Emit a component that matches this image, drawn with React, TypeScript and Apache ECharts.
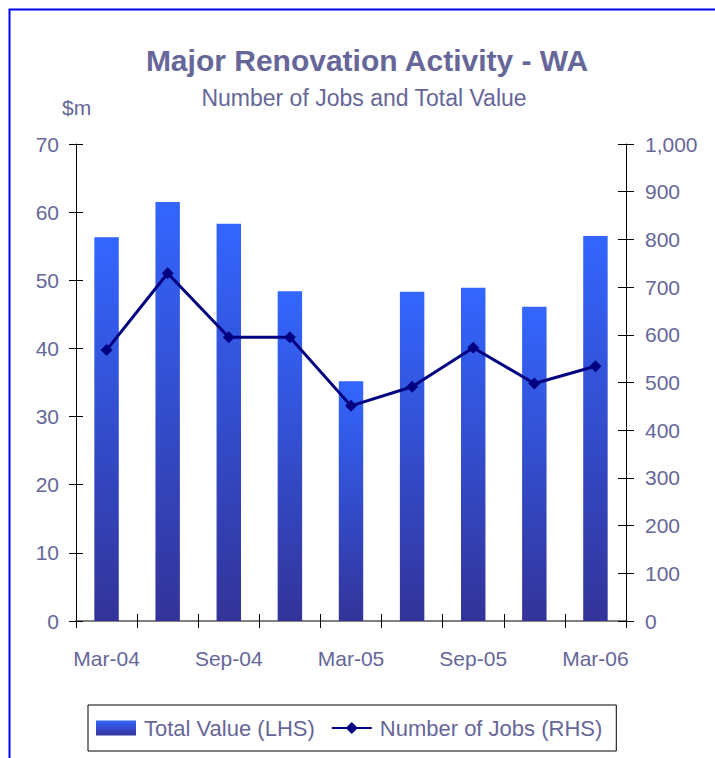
import React, { useEffect, useRef } from "react";
import * as echarts from "echarts";

const categories = ["Mar-04", "Jun-04", "Sep-04", "Dec-04", "Mar-05", "Jun-05", "Sep-05", "Dec-05", "Mar-06"];
const totalValue = [56.3, 61.5, 58.3, 48.4, 35.2, 48.3, 48.9, 46.1, 56.5];
const numberOfJobs = [568, 729, 595, 595, 451, 491, 573, 498, 534];

const FONT = "Liberation Sans, Arial, sans-serif";
const TXT = "#666699";

export default function App() {
  const ref = useRef<HTMLDivElement>(null);
  useEffect(() => {
    document.body.style.margin = "0";
    const chart = echarts.init(ref.current!, null, { renderer: "svg" });
    const gridBox = { left: 76, top: 144, width: 550, height: 477 };
    const option: any = {
      animation: false,
      backgroundColor: "#ffffff",
      title: [
        {
          text: "Major Renovation Activity - WA",
          left: 367,
          top: 45,
          padding: 0,
          textAlign: "center",
          textStyle: { fontFamily: FONT, fontSize: 30, fontWeight: "bold", color: TXT },
        },
        {
          text: "Number of Jobs and Total Value",
          left: 364,
          top: 86,
          padding: 0,
          textAlign: "center",
          textStyle: { fontFamily: FONT, fontSize: 23, fontWeight: "normal", color: TXT },
        },
        {
          text: "$m",
          left: 62,
          top: 97,
          padding: 0,
          textStyle: { fontFamily: FONT, fontSize: 21, fontWeight: "normal", color: TXT },
        },
      ],
      graphic: [
        {
          type: "rect",
          left: 7,
          top: 7,
          shape: { width: 730, height: 780 },
          style: { fill: "none", stroke: "#0000ff", lineWidth: 2 },
          silent: true,
        },
      ],
      legend: {
        left: 88,
        top: 705,
        padding: [12, 14, 12, 8],
        itemWidth: 40,
        itemHeight: 15,
        itemGap: 16,
        borderColor: "#000000",
        borderWidth: 1,
        textStyle: { fontFamily: FONT, fontSize: 22, color: TXT, padding: [0, 0, 0, 3] },
        data: [{ name: "Total Value (LHS)", icon: "rect" }, { name: "Number of Jobs (RHS)" }],
      },
      grid: [
        { ...gridBox, containLabel: false },
        { ...gridBox, containLabel: false },
      ],
      xAxis: [
        {
          type: "category",
          gridIndex: 0,
          data: categories,
          boundaryGap: true,
          axisLine: { lineStyle: { color: "#808080", width: 2 } },
          axisTick: { show: true, interval: 0, length: 7, lineStyle: { color: "#000000" } },
          axisLabel: { interval: 1, margin: 27, fontFamily: FONT, fontSize: 21, color: TXT },
        },
        {
          type: "category",
          gridIndex: 1,
          data: categories,
          boundaryGap: true,
          axisLine: { show: false },
          axisTick: { show: true, inside: true, interval: 0, length: 7, lineStyle: { color: "#000000" } },
          axisLabel: { show: false },
        },
      ],
      yAxis: [
        {
          type: "value",
          gridIndex: 0,
          position: "left",
          min: 0,
          max: 70,
          interval: 10,
          splitLine: { show: false },
          axisLine: { show: true, lineStyle: { color: "#000000" } },
          axisTick: { show: true, length: 7, lineStyle: { color: "#000000" } },
          axisLabel: { margin: 17, fontFamily: FONT, fontSize: 21, color: TXT },
        },
        {
          type: "value",
          gridIndex: 0,
          position: "right",
          min: 0,
          max: 1000,
          interval: 100,
          splitLine: { show: false },
          axisLine: { show: true, lineStyle: { color: "#000000" } },
          axisTick: { show: true, length: 8, lineStyle: { color: "#000000" } },
          axisLabel: {
            margin: 19,
            fontFamily: FONT,
            fontSize: 21,
            color: TXT,
            formatter: (v: number) => v.toLocaleString("en-US"),
          },
        },
        {
          type: "value",
          gridIndex: 1,
          position: "left",
          min: 0,
          max: 70,
          interval: 10,
          splitLine: { show: false },
          axisLine: { show: false },
          axisTick: { show: true, inside: true, length: 7, lineStyle: { color: "#000000" } },
          axisLabel: { show: false },
        },
        {
          type: "value",
          gridIndex: 1,
          position: "right",
          min: 0,
          max: 1000,
          interval: 100,
          splitLine: { show: false },
          axisLine: { show: false },
          axisTick: { show: true, inside: true, length: 8, lineStyle: { color: "#000000" } },
          axisLabel: { show: false },
        },
      ],
      series: [
        {
          name: "Total Value (LHS)",
          type: "bar",
          xAxisIndex: 0,
          yAxisIndex: 0,
          data: totalValue,
          barWidth: "40%",
          itemStyle: {
            color: new echarts.graphic.LinearGradient(0, 0, 0, 1, [
              { offset: 0, color: "#3366ff" },
              { offset: 1, color: "#333399" },
            ]),
          },
        },
        {
          name: "Number of Jobs (RHS)",
          type: "line",
          xAxisIndex: 0,
          yAxisIndex: 1,
          data: numberOfJobs,
          symbol: "diamond",
          symbolSize: 12,
          lineStyle: { color: "#000080", width: 3 },
          itemStyle: { color: "#000080" },
          z: 5,
        },
      ],
    };
    chart.setOption(option);
    return () => chart.dispose();
  }, []);
  return <div ref={ref} style={{ width: 715, height: 758 }} />;
}
